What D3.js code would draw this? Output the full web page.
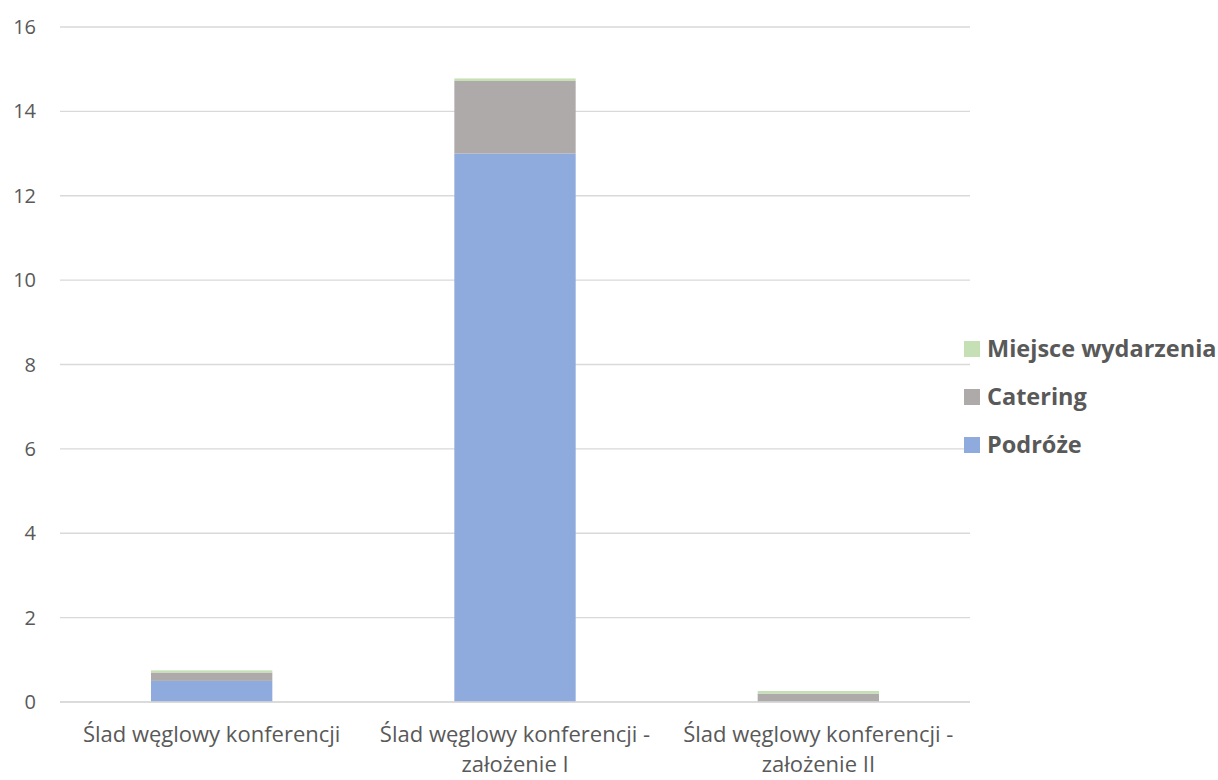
<!DOCTYPE html>
<html><head><meta charset="utf-8">
<script src="https://cdn.jsdelivr.net/npm/d3@7"></script>
<style>body{margin:0;background:#fff}svg{display:block}</style>
</head><body>
<svg id="c" width="1218" height="780"></svg>
<script>
const categories = [
  ["Ślad węglowy konferencji"],
  ["Ślad węglowy konferencji -", "założenie I"],
  ["Ślad węglowy konferencji -", "założenie II"]
];
const seriesNames = ["Podróże", "Catering", "Miejsce wydarzenia"];
const podroze = [0.5, 13.0, 0.0];
const catering = [0.2, 1.72, 0.2];
const miejsce = [0.05, 0.06, 0.06];
const yTicks = [0, 2, 4, 6, 8, 10, 12, 14, 16];
const colors = ["#8FAADC", "#AEAAAA", "#C5E0B4"];

(function () {
const svg = d3.select("#c");
const mLeft = 60, mRight = 970, mTop = 27, mBottom = 702;
const font = "'Open Sans', Lato, sans-serif";
const textCol = "#595959";

const x = d3.scaleBand().domain(d3.range(categories.length)).range([mLeft, mRight]).paddingInner(0.6).paddingOuter(0.3);
const y = d3.scaleLinear().domain([0, 16]).range([mBottom, mTop]);

// gridlines
svg.append("g").selectAll("line").data(yTicks).join("line")
  .attr("x1", mLeft).attr("x2", mRight)
  .attr("y1", d => y(d)).attr("y2", d => y(d))
  .attr("stroke", "#D9D9D9").attr("stroke-width", 1.3);

// y tick labels
svg.append("g").selectAll("text").data(yTicks).join("text")
  .attr("x", 36).attr("y", d => y(d)).attr("dy", "0.35em")
  .attr("text-anchor", "end").attr("font-family", font).attr("font-size", 20)
  .attr("fill", textCol).text(d => d);

// stacked data
const rows = categories.map((c, i) => ({i, "Podróże": podroze[i], "Catering": catering[i], "Miejsce wydarzenia": miejsce[i]}));
const stack = d3.stack().keys(seriesNames)(rows);

svg.append("g").selectAll("g").data(stack).join("g")
  .attr("fill", (d, k) => colors[k])
  .selectAll("rect").data(d => d).join("rect")
  .attr("x", d => x(d.data.i)).attr("width", x.bandwidth())
  .attr("y", d => y(d[1])).attr("height", d => Math.max(0, y(d[0]) - y(d[1])));

// zero axis line
svg.append("line").attr("x1", mLeft).attr("x2", mRight).attr("y1", y(0)).attr("y2", y(0))
  .attr("stroke", "#D9D9D9").attr("stroke-width", 1.3);

// x labels
const xl = svg.append("g").selectAll("text").data(categories).join("text")
  .attr("text-anchor", "middle").attr("font-family", font).attr("font-size", 22)
  .attr("fill", textCol);
xl.selectAll("tspan").data((d, i) => d.map(t => ({t, i}))).join("tspan")
  .attr("x", d => x(d.i) + x.bandwidth() / 2)
  .attr("y", (d, j) => 742 + j * 30.4)
  .text(d => d.t);

// legend
const legendItems = seriesNames.map((n, k) => ({n, k})).reverse();
const lg = svg.append("g").selectAll("g").data(legendItems).join("g")
  .attr("transform", (d, j) => `translate(964, ${349 + j * 48})`);
lg.append("rect").attr("x", 0).attr("y", -8).attr("width", 16).attr("height", 16).attr("fill", d => colors[d.k]);
lg.append("text").attr("x", 23).attr("y", 0).attr("dy", "0.36em")
  .attr("font-family", font).attr("font-size", 23.5).attr("font-weight", "bold")
  .attr("fill", textCol).text(d => d.n);
})();
</script>
</body></html>
